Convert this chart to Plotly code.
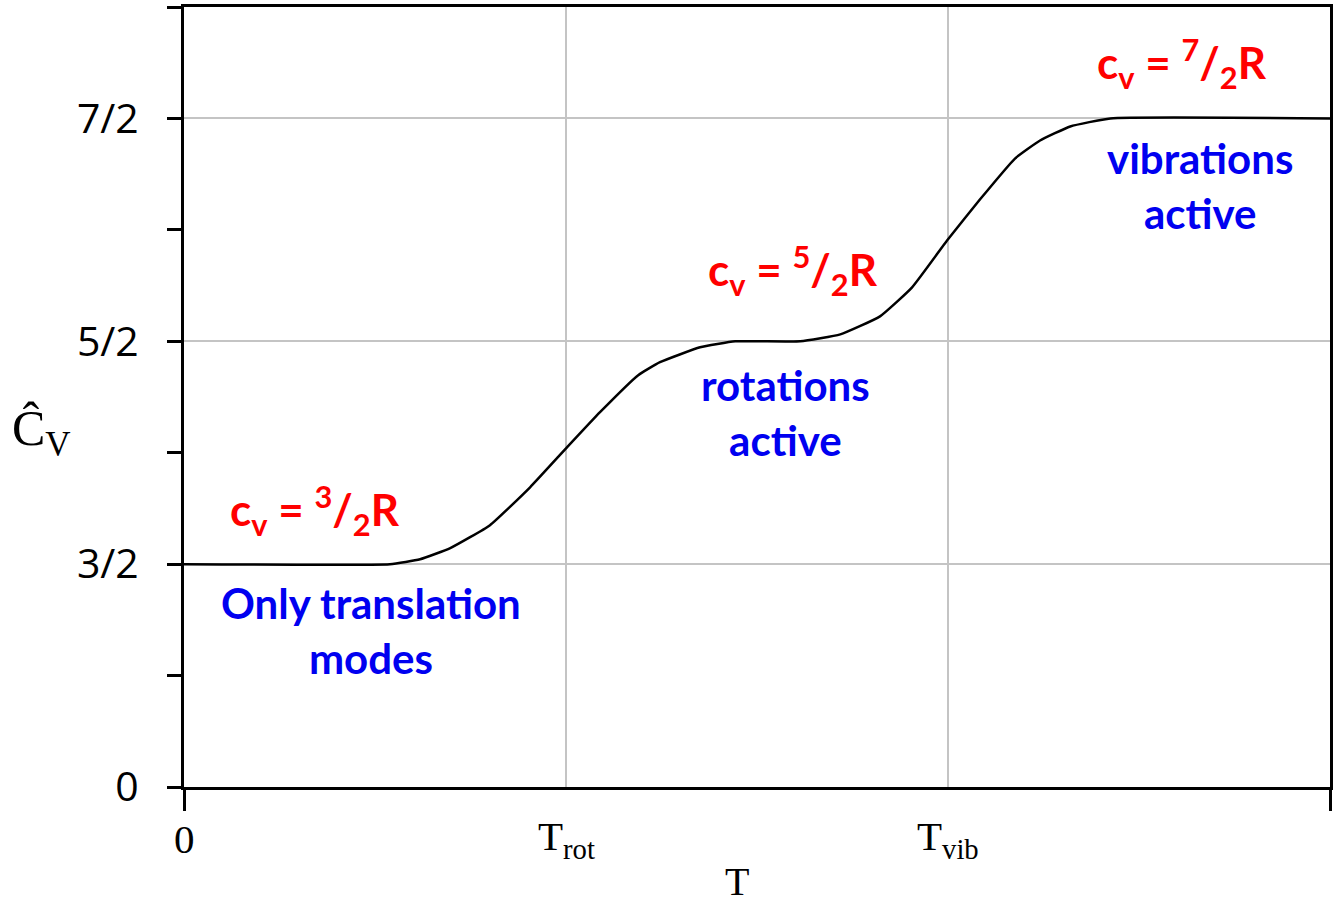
import plotly.graph_objects as go

# Data (x in characteristic-temperature units, y in "level" units: 0 -> 0, 1 -> 3/2, 2 -> 5/2, 3 -> 7/2)
T_vals = [0.0, 0.539, 0.618, 0.697, 0.801, 0.906, 1.003, 1.089, 1.189, 1.246, 1.351, 1.443,
          1.613, 1.718, 1.822, 1.906, 1.998, 2.084, 2.176, 2.241, 2.320, 2.425, 3.0]
Cv_levels = [1.0, 1.0, 1.022, 1.072, 1.175, 1.345, 1.525, 1.682, 1.848, 1.906, 1.973, 2.0,
             2.0, 2.031, 2.112, 2.242, 2.453, 2.637, 2.821, 2.901, 2.964, 3.0, 3.0]

x_label_vals = [0, 1, 2]
x_label_text = ["0", "T<sub>rot</sub>", "T<sub>vib</sub>"]
x_end_ticks = [0, 3]
x_grid_vals = [1, 2]
y_tick_vals = [0, 1, 2, 3]
y_tick_text = ["0", "3/2", "5/2", "7/2"]
y_minor_vals = [0.5, 1.5, 2.5, 3.5]

serif = "Liberation Serif"
sans = "Open Sans"
hand = "Lato"
RED = "#ff0000"
BLUE = "#0000f0"
GRID = "#c4c4c4"

fig = go.Figure()
fig.add_trace(go.Scatter(x=T_vals, y=Cv_levels, mode="lines",
                         line=dict(color="black", width=2.5, shape="spline", smoothing=0.4),
                         showlegend=False, hoverinfo="skip"))

fig.update_layout(
    width=1337, height=901,
    margin=dict(l=184, r=7, t=7, b=114),
    plot_bgcolor="white", paper_bgcolor="white",
    xaxis=dict(range=[0, 3], tickmode="array", tickvals=x_end_ticks,
               ticks="outside", ticklen=21, tickwidth=3, tickcolor="black",
               showticklabels=False, showgrid=False,
               showline=True, linecolor="black", linewidth=3, mirror=True,
               zeroline=False, automargin=False,
               minor=dict(tickmode="array", tickvals=x_grid_vals, ticks="",
                          showgrid=True, gridcolor=GRID, gridwidth=2)),
    yaxis=dict(range=[0, 3.5], tickmode="array", tickvals=y_tick_vals, ticktext=y_tick_text,
               ticks="outside", ticklen=14, tickwidth=3, tickcolor="black",
               showgrid=True, gridcolor=GRID, gridwidth=2,
               showline=True, linecolor="black", linewidth=3, mirror=True,
               zeroline=False, automargin=False,
               tickfont=dict(family=sans, size=41, color="black"),
               ticklabelstandoff=20,
               minor=dict(tickmode="array", tickvals=y_minor_vals, ticks="outside",
                          ticklen=14, tickwidth=3, tickcolor="black", showgrid=False)),
)

# x-axis labels (drawn as annotations so only the axis ends carry ticks)
for xv, txt in zip(x_label_vals, x_label_text):
    fig.add_annotation(x=xv, y=-0.0667, xref="x", yref="paper",
                       text=txt, showarrow=False, xanchor="center", yanchor="middle",
                       font=dict(family=serif, size=41, color="black"))

annots = [
    dict(x=-0.124, y=0.455, xref="paper", yref="paper", text="Ĉ<sub>V</sub>",
         font=dict(family=serif, size=50, color="black")),
    dict(x=0.4826, y=-0.121, xref="paper", yref="paper", text="T",
         font=dict(family=serif, size=40, color="black")),
    dict(x=0.343, y=1.242, text="<b>c<sub>v</sub> = <sup>3</sup>/<sub>2</sub>R</b>",
         font=dict(family=hand, size=44, color=RED)),
    dict(x=0.49, y=0.704, text="<b>Only translation<br>modes</b>",
         font=dict(family=hand, size=42, color=BLUE)),
    dict(x=1.595, y=2.318, text="<b>c<sub>v</sub> = <sup>5</sup>/<sub>2</sub>R</b>",
         font=dict(family=hand, size=44, color=RED)),
    dict(x=1.574, y=1.682, text="<b>rotations<br>active</b>",
         font=dict(family=hand, size=42, color=BLUE)),
    dict(x=2.613, y=3.247, text="<b>c<sub>v</sub> = <sup>7</sup>/<sub>2</sub>R</b>",
         font=dict(family=hand, size=44, color=RED)),
    dict(x=2.66, y=2.70, text="<b>vibrations<br>active</b>",
         font=dict(family=hand, size=42, color=BLUE)),
]
for a in annots:
    a.setdefault("xref", "x")
    a.setdefault("yref", "y")
    fig.add_annotation(showarrow=False, xanchor="center", yanchor="middle", **a)

fig.write_html("out.html", config={"displayModeBar": False},
               post_script="document.body.style.margin='0';document.body.style.overflow='hidden';")
